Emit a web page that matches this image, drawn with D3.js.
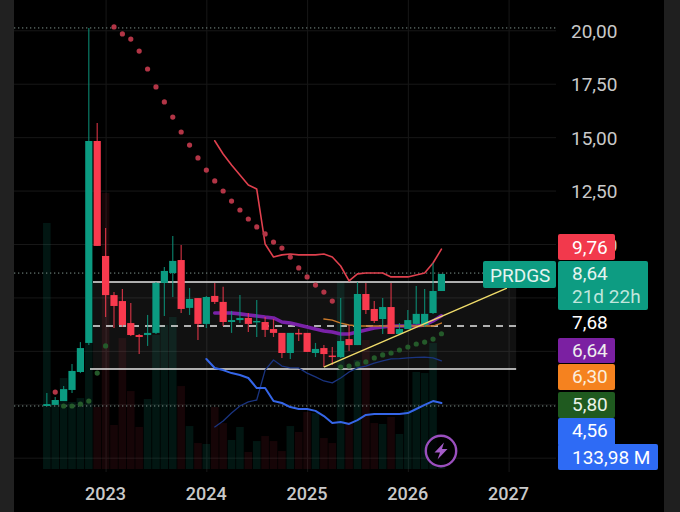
<!DOCTYPE html>
<html lang="tr">
<head>
    <meta charset="utf-8">
    <title>PRDGS</title>
    <script src="https://d3js.org/d3.v7.min.js" charset="utf-8"></script>
    <style type="text/css">
        html, body { margin: 0; padding: 0; background: #000; overflow: hidden; }
        svg { display: block; }
        text { font-family: Roboto, sans-serif; }
        .grid line { stroke: #171717; stroke-width: 1; }
        .grid path { display: none; }
        .labels path, .labels line { display: none; }
        .labels text { fill: #c9c9c9; font-size: 19px; }
        .years text { font-weight: 500; font-size: 18px; }
    </style>
</head>
<body>
    <script type="text/javascript">
        // monthly bars, month 0 = Jan 2023
        var firstMonth = -7;
        var open = [2.42,2.47,2.65,3.17,4.01,5.37,14.82,9.44,7.61,7.33,6.30,5.74,5.74,5.84,8.18,8.64,9.25,7.01,7.47,6.26,7.57,7.29,6.35,6.44,6.54,6.35,6.35,6.02,5.84,4.90,5.84,5.84,4.90,5.13,4.78,4.71,5.55,5.27,7.66,6.96,6.49,7.05,5.79,6.02,6.26,6.21,6.77,7.80];
        var high = [3.03,2.84,3.35,4.39,5.41,20.11,15.66,10.75,7.75,7.90,7.24,5.79,6.68,8.22,8.92,10.37,9.95,7.94,7.47,7.57,8.18,8.00,6.87,7.61,6.77,7.38,6.58,6.49,5.84,5.84,6.02,5.84,5.37,5.27,5.18,7.47,6.21,8.22,8.18,7.33,7.47,8.18,6.30,6.91,8.04,7.90,9.11,8.60];
        var low = [2.42,2.47,2.65,3.03,3.96,5.27,9.91,6.58,6.07,6.12,5.70,4.85,5.23,5.79,6.63,7.52,6.77,6.68,5.51,6.07,7.19,6.16,5.84,6.30,5.88,5.65,5.65,5.65,4.67,4.62,5.46,4.95,4.71,4.24,4.34,4.67,4.99,5.27,6.73,6.30,5.79,5.79,5.74,6.02,6.21,6.12,6.73,7.80];
        var close = [2.51,2.70,3.21,4.06,5.13,14.82,9.91,7.61,7.10,6.21,5.74,5.65,5.84,8.18,8.74,9.21,6.96,7.43,6.26,7.52,7.29,6.35,6.44,6.54,6.26,6.40,5.98,5.84,4.90,5.84,5.79,4.95,5.09,4.85,4.74,5.46,5.27,7.66,6.91,6.40,7.05,5.79,6.02,6.44,6.73,6.73,7.80,8.60];
        var volume = [3296,858,1219,898,951,1729,831,3698,590,1755,1045,563,938,1796,1930,2037,1112,576,348,335,831,616,389,563,228,375,442,375,241,576,496,764,750,415,348,2506,630,1461,1729,616,603,697,469,791,1300,1286,1688,133.98];

        // indicators: each starts at the month named next to it
        var sarDownStart = 1;
        var sarDown = [20.16,19.83,19.59,19.03,18.19,17.35,16.65,15.94,15.24,14.63,14.03,13.46,12.95,12.48,12.01,11.59,11.17,10.80,10.47,10.09,9.81,9.39,8.88,8.46,8.08,7.75,7.33];
        var sarUpEarlyStart = -5;
        var sarUpEarly = [2.42,2.42,2.51,2.65,3.96,5.23];
        var sarUpLateStart = 28;
        var sarUpLate = [4.24,4.29,4.39,4.48,4.67,4.81,4.90,5.04,5.18,5.32,5.41,5.55,5.80];
        var sarFirstStart = -6;
        var sarFirst = [3.07];
        var upperStart = 13;
        var upper = [14.83,14.21,13.70,13.23,12.76,12.57,10.00,9.39,9.49,9.53,9.49,9.49,9.49,9.53,9.39,8.97,8.27,8.60,8.64,8.64,8.64,8.46,8.46,8.46,8.55,8.64,9.11,9.76];
        var blueStart = 12;
        var blue = [4.62,4.20,4.10,3.96,3.87,3.73,3.26,3.26,2.65,2.56,2.37,2.28,2.28,2.19,1.95,1.62,1.67,1.58,1.76,2.00,2.05,2.05,2.05,2.05,2.09,2.28,2.47,2.65,2.56];
        var navyStart = 13;
        var navy = [1.44,1.72,2.09,2.42,2.61,2.70,4.10,4.57,4.29,4.20,4.20,3.96,3.78,3.59,3.50,3.73,4.01,4.20,4.29,4.43,4.53,4.62,4.64,4.67,4.69,4.71,4.67,4.53];
        var purpleStart = 13;
        var purple = [6.77,6.77,6.77,6.73,6.68,6.63,6.58,6.54,6.35,6.30,6.21,6.12,6.02,5.93,5.88,5.79,5.79,5.88,5.98,6.07,6.12,6.16,6.16,6.16,6.16,6.21,6.40,6.64];
        var orangeStart = 26;
        var orange = [6.49,6.44,6.30,6.21,6.16,6.16,6.16,6.16,6.16,6.16,6.16,6.16,6.16,6.16,6.30];

        // drawings
        var levelPrices = [8.22, 6.16, 4.15];
        var levelMonths = [-1.5, 48.9];
        var trendMonths = [26, 47.8];
        var trendPrices = [4.24, 7.94];
        var dottedPrices = [20.11, 8.64, 2.42];

        var yearTicks = [0, 12, 24, 36, 48];
        var yearLabels = ["2023", "2024", "2025", "2026", "2027"];
        var priceTicks = [0, 2.5, 5, 7.5, 10, 12.5, 15, 17.5, 20];

        var width = 680, height = 512, plotLeft = 14, plotRight = 556, stripRight = 664;

        var svg = d3.select("body").append("svg")
            .attr("width", width)
            .attr("height", height);

        var x = d3.scaleLinear().domain([0, 48]).range([105.6, 508.6]);
        var y = d3.scaleLinear().domain([0, 20]).range([457.7, 30.3]);
        var v = d3.scaleLinear().domain([0, 3698]).range([469, 193]);

        var comma = d3.formatLocale({ decimal: ",", thousands: ".", grouping: [3], currency: ["", ""] }).format(".2f");

        var GREEN = "#0b9b81", RED = "#f83a4e";

        var bars = open.map(function (d, i) {
            return { month: firstMonth + i, open: d, high: high[i], low: low[i], close: close[i], volume: volume[i] };
        });

        function points(values, start) {
            return values.map(function (d, i) { return { month: start + i, value: d }; });
        }

        // side strips
        svg.append("rect").attr("width", plotLeft).attr("height", height).attr("fill", "#212121");
        svg.append("rect").attr("x", stripRight).attr("width", width - stripRight).attr("height", height).attr("fill", "#1f1f1f");

        // grid
        svg.append("g")
            .attr("class", "grid")
            .attr("transform", "translate(" + plotRight + ",0)")
            .call(d3.axisLeft(y).tickValues(priceTicks).tickSize(plotRight - plotLeft).tickFormat(""));

        svg.append("g")
            .attr("class", "grid")
            .attr("transform", "translate(0,472)")
            .call(d3.axisTop(x).tickValues(yearTicks).tickSize(472).tickFormat(""));

        // range box
        svg.append("rect")
            .attr("x", x(levelMonths[0]))
            .attr("y", y(levelPrices[0]))
            .attr("width", x(levelMonths[1]) - x(levelMonths[0]))
            .attr("height", y(levelPrices[2]) - y(levelPrices[0]))
            .attr("fill", "#fff")
            .attr("fill-opacity", 0.065);

        // volume
        svg.selectAll(".vol")
            .data(bars)
            .enter()
            .append("rect")
            .attr("class", "vol")
            .attr("x", function (d) { return x(d.month) - 3.8; })
            .attr("y", function (d) { return v(d.volume); })
            .attr("width", 7.6)
            .attr("height", function (d) { return v(0) - v(d.volume); })
            .attr("fill", function (d) { return d.close >= d.open ? GREEN : RED; })
            .attr("fill-opacity", function (d) { return d.close >= d.open ? 0.14 : 0.09; });

        // dotted price lines
        svg.selectAll(".dotted")
            .data(dottedPrices)
            .enter()
            .append("line")
            .attr("class", "dotted")
            .attr("x1", plotLeft)
            .attr("x2", function (d, i) { return i == 1 ? 484 : plotRight; })
            .attr("y1", function (d) { return y(d); })
            .attr("y2", function (d) { return y(d); })
            .attr("stroke", "#7f938c")
            .attr("stroke-width", 1)
            .attr("stroke-dasharray", "1.3 2.7");

        // level lines
        svg.selectAll(".level")
            .data(levelPrices)
            .enter()
            .append("line")
            .attr("class", "level")
            .attr("x1", function (d, i) { return x(levelMonths[0]) - (i == 2 ? 3 : 0); })
            .attr("x2", function (d, i) { return i == 0 ? 484 : x(levelMonths[1]); })
            .attr("y1", function (d) { return y(d); })
            .attr("y2", function (d) { return y(d); })
            .attr("stroke", "#e6e6e6")
            .attr("stroke-width", function (d, i) { return i == 1 ? 1.5 : 1.6; })
            .attr("stroke-dasharray", function (d, i) { return i == 1 ? "7 6" : null; });

        // indicator lines
        var line = d3.line()
            .x(function (d) { return x(d.month); })
            .y(function (d) { return y(d.value); });

        function drawLine(values, start, color, w) {
            svg.append("path")
                .datum(points(values, start))
                .attr("d", line)
                .attr("fill", "none")
                .attr("stroke", color)
                .attr("stroke-width", w)
                .attr("stroke-linejoin", "round")
                .attr("stroke-linecap", "round");
        }

        drawLine(navy, navyStart, "#1a3480", 1.3);
        drawLine(blue, blueStart, "#3566e8", 2);
        drawLine(upper, upperStart, "#e0404e", 1.6);
        drawLine(purple, purpleStart, "#7a22a8", 3.6);
        drawLine(orange, orangeStart, "#c9792a", 1.4);

        // candles
        var candle = svg.selectAll(".candle")
            .data(bars)
            .enter()
            .append("g")
            .attr("class", "candle");

        candle.append("line")
            .attr("x1", function (d) { return x(d.month); })
            .attr("x2", function (d) { return x(d.month); })
            .attr("y1", function (d) { return y(d.high); })
            .attr("y2", function (d) { return y(d.low); })
            .attr("stroke", function (d) { return d.close >= d.open ? GREEN : RED; })
            .attr("stroke-opacity", 0.8)
            .attr("stroke-width", 1.2);

        candle.append("rect")
            .attr("x", function (d) { return x(d.month) - 3.6; })
            .attr("y", function (d) { return y(Math.max(d.open, d.close)); })
            .attr("width", 7.2)
            .attr("height", function (d) { return Math.max(1.5, Math.abs(y(d.open) - y(d.close))); })
            .attr("fill", function (d) { return d.close >= d.open ? GREEN : RED; });

        // trend line goes over the candles
        svg.append("line")
            .attr("x1", x(trendMonths[0]))
            .attr("x2", x(trendMonths[1]))
            .attr("y1", y(trendPrices[0]))
            .attr("y2", y(trendPrices[1]))
            .attr("stroke", "#f0dc6a")
            .attr("stroke-width", 1.4);

        // sar dots
        function drawDots(values, start, color) {
            svg.append("g")
                .selectAll("circle")
                .data(points(values, start))
                .enter()
                .append("circle")
                .attr("cx", function (d) { return x(d.month); })
                .attr("cy", function (d) { return y(d.value); })
                .attr("r", 2.6)
                .attr("fill", color);
        }

        drawDots(sarDown, sarDownStart, "#b23546");
        drawDots(sarFirst, sarFirstStart, "#b23546");
        drawDots(sarUpEarly, sarUpEarlyStart, "#245a2a");
        drawDots(sarUpLate, sarUpLateStart, "#245a2a");

        // axes text
        svg.append("g")
            .attr("class", "labels")
            .attr("transform", "translate(" + plotRight + ",1)")
            .call(d3.axisRight(y)
                .tickValues(priceTicks.filter(function (d) { return d >= 10; }))
                .tickSize(0)
                .tickPadding(15)
                .tickFormat(comma));

        svg.append("g")
            .attr("class", "labels years")
            .attr("transform", "translate(-0.6,487)")
            .call(d3.axisBottom(x)
                .tickValues(yearTicks)
                .tickSize(0)
                .tickPadding(0)
                .tickFormat(function (d, i) { return yearLabels[i]; }))
            .selectAll("text")
            .attr("dy", "0.71em");

        // lightning button
        var bolt = svg.append("g").attr("transform", "translate(441,451)");
        bolt.append("circle").attr("r", 15.2).attr("fill", "#000").attr("fill-opacity", 0.75)
            .attr("stroke", "#9a4fbe").attr("stroke-width", 2.4);
        bolt.append("path").attr("d", "M3,-8.5 L-6.5,1.5 L-1,1.5 L-3.5,8.5 L6.5,-2 L1,-2 Z").attr("fill", "#a45cc8");

        // right side badges
        function badge(left, top, right, bottom, color) {
            svg.append("rect")
                .attr("x", left).attr("y", top)
                .attr("width", right - left).attr("height", bottom - top)
                .attr("rx", 2)
                .attr("fill", color);
        }

        function label(tx, ty, s, color) {
            svg.append("text")
                .attr("x", tx).attr("y", ty)
                .attr("dy", "0.35em")
                .attr("font-size", 19)
                .attr("fill", color || "#fff")
                .text(s);
        }

        badge(558, 234, 615, 260, "#f2394c");
        label(572, 247, "9,76");

        badge(483, 261, 556, 288, "#0d9c82");
        label(490, 275, "PRDGS", "#e4f4f0");
        badge(558, 261, 648, 310, "#0d9c82");
        label(572, 273, "8,64", "#e4f4f0");
        label(572, 296, "21d 22h", "#bfe6dc");

        label(572, 322, "7,68");

        badge(558, 338, 615, 363, "#7b20a2");
        label(572, 350, "6,64", "#eee");

        badge(558, 364, 615, 390, "#f5821f");
        label(572, 376, "6,30", "#fbeedd");

        badge(558, 392, 615, 418, "#1f5a1f");
        label(572, 404, "5,80", "#eaf2e8");

        badge(558, 418, 615, 446, "#2e6bf5");
        badge(558, 444, 658, 470, "#2e6bf5");
        label(572, 430, "4,56");
        label(572, 457, "133,98 M");
    </script>
</body>
</html>
